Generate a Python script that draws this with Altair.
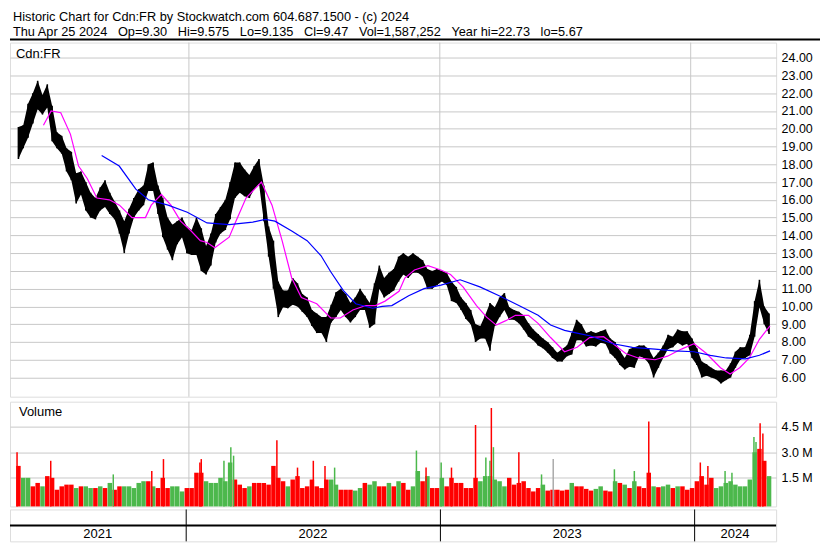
import altair as alt
import pandas as pd

# ---------------- text content ----------------
GAP = "\u00a0\u00a0\u00a0"
HEADER_LINE1 = "Historic Chart for Cdn:FR by Stockwatch.com 604.687.1500 - (c) 2024"
HEADER_LINE2 = ("Thu Apr 25 2024" + GAP + "Op=9.30" + GAP + "Hi=9.575" + GAP + "Lo=9.135" + GAP +
                "Cl=9.47" + GAP + "Vol=1,587,252" + GAP + "Year hi=22.73" + GAP + "lo=5.67")
SYMBOL = "Cdn:FR"
VOLUME_LABEL = "Volume"

# ---------------- weekly price ranges ----------------
FIRST_WEEK = "2021-04-28"
HIGH = [20.1, 20.2, 21.4, 22.0, 22.7, 21.9, 22.5, 21.3, 19.8, 19.6,
        18.9, 18.7, 17.5, 17.6, 17.0, 16.4, 16.1, 16.7, 17.1, 16.4,
        15.9, 15.4, 14.8, 15.5, 16.1, 16.6, 16.8, 18.0, 18.1, 16.8,
        16.1, 15.0, 14.6, 14.8, 15.0, 14.5, 14.3, 15.0, 14.4, 13.4,
        14.1, 15.2, 15.6, 16.0, 17.0, 18.1, 18.1, 17.7, 17.4, 17.9,
        18.3, 16.8, 14.5, 13.7, 11.4, 10.9, 10.9, 11.6, 11.3, 10.7,
        10.5, 9.8, 9.6, 9.4, 9.4, 10.1, 10.8, 11.0, 10.7, 10.2,
        10.5, 11.0, 10.6, 10.2, 11.3, 12.3, 11.6, 11.9, 12.1, 12.8,
        13.0, 12.8, 13.0, 12.8, 12.6, 12.1, 12.0, 12.1, 12.0, 11.9,
        11.4, 11.1, 10.5, 10.2, 9.8, 9.0, 8.9, 9.5, 10.2, 9.95,
        10.5, 10.75, 9.95, 9.8, 9.7, 9.5, 9.05, 8.7, 8.45, 8.2,
        8.0, 7.7, 7.4, 7.6, 7.8, 8.5, 9.25, 9.0, 8.5, 8.6,
        8.5, 8.6, 8.7, 8.2, 8.0, 7.5, 7.1, 7.6, 7.7, 7.8,
        7.8, 7.6, 7.1, 7.4, 7.8, 8.4, 8.3, 8.7, 8.6, 8.6,
        8.2, 7.65, 6.9, 6.75, 6.55, 6.4, 6.4, 6.4, 6.8, 7.45,
        7.7, 7.7, 8.4, 10.3, 11.5, 10.0, 9.6]
LOW = [18.3, 18.9, 19.5, 20.3, 21.1, 20.8, 21.2, 19.3, 18.9, 18.6,
       17.6, 17.1, 15.8, 16.3, 15.4, 15.0, 14.9, 15.4, 15.6, 15.2,
       14.9, 14.1, 13.0, 14.1, 15.0, 15.4, 15.7, 16.5, 16.5, 15.2,
       13.9, 13.2, 12.6, 13.5, 13.9, 13.0, 12.9, 12.9, 12.0, 11.8,
       12.3, 13.6, 14.1, 14.3, 14.9, 16.1, 16.4, 16.2, 16.1, 16.6,
       16.9, 14.8, 12.8, 11.0, 9.4, 9.95, 9.9, 10.1, 10.0, 9.7,
       9.4, 8.9, 8.5, 8.5, 8.0, 9.1, 9.4, 9.8, 9.4, 9.1,
       9.4, 9.8, 9.8, 8.8, 9.0, 11.0, 10.5, 10.7, 10.9, 11.4,
       11.8, 11.6, 11.9, 11.9, 11.7, 11.0, 11.0, 11.2, 11.4, 11.2,
       10.3, 10.2, 9.8, 9.3, 9.0, 8.0, 8.2, 8.2, 7.5, 8.9,
       9.4, 9.8, 9.25, 9.25, 9.05, 8.7, 8.3, 8.1, 7.8, 7.65,
       7.4, 7.1, 6.9, 6.9, 7.2, 7.3, 8.1, 8.1, 7.75, 7.8,
       7.75, 7.95, 7.9, 7.35, 7.1, 6.7, 6.45, 6.6, 6.55, 7.2,
       7.1, 6.8, 6.0, 6.55, 7.1, 7.6, 7.7, 7.95, 7.8, 7.9,
       7.1, 6.7, 6.0, 6.1, 6.0, 5.9, 5.67, 5.85, 6.0, 6.55,
       7.0, 7.1, 7.25, 8.3, 9.95, 9.0, 8.45]

# ---------------- moving averages (week offsets from first week, value) ----------------
MA_SHORT_WK = [5.2, 6.8, 8.8, 10.8, 12.5, 14.3, 16.3, 18.9, 21.0, 23.6,
               26.4, 27.6, 29.7, 31.7, 33.7, 35.7, 37.8, 39.2, 40.8, 43.8,
               45.2, 47.3, 50.5, 52.7, 54.8, 56.8, 58.8, 62.0, 64.9, 66.9,
               69.5, 72.2, 74.2, 76.2, 79.1, 80.3, 82.3, 85.1, 87.8, 89.8,
               92.4, 95.2, 97.3, 99.3, 101.3, 103.3, 106.0, 108.0, 110.6, 113.5,
               116.1, 118.7, 121.6, 123.6, 126.2, 128.8, 132.3, 134.9, 137.8, 140.4,
               143.0, 145.9, 147.9, 149.9, 151.9, 154.0, 156.2]
MA_SHORT = [20.2, 21.0, 20.9, 19.7, 17.9, 17.2, 16.1, 16.0, 15.7, 15.0,
            15.0, 15.7, 16.3, 15.7, 14.8, 14.3, 13.7, 13.6, 13.3, 13.9,
            14.8, 16.1, 17.0, 15.7, 13.7, 11.6, 10.5, 10.15, 9.35, 9.35,
            9.8, 10.05, 10.05, 10.3, 10.85, 11.6, 12.05, 12.3, 12.05, 11.8,
            11.1, 10.05, 9.4, 8.95, 9.2, 9.5, 9.5, 9.05, 8.25, 7.45,
            7.7, 8.25, 8.3, 7.9, 7.35, 7.1, 7.0, 7.2, 7.6, 7.9,
            7.35, 6.55, 6.2, 6.55, 7.1, 8.15, 8.9]
MA_LONG_WK = [17.3, 20.95, 24.4, 27.0, 31.1, 35.1, 39.2, 43.8, 48.7, 51.3,
              53.3, 56.8, 60.0, 62.9, 64.9, 67.5, 70.1, 73.6, 75.6, 77.6,
              81.1, 84.3, 87.8, 91.8, 95.9, 99.9, 104.0, 108.0, 110.6, 113.5,
              116.1, 118.7, 123.6, 127.6, 132.3, 136.3, 140.4, 143.8, 147.1, 151.1,
              154.0, 156.2]
MA_LONG = [18.5, 17.9, 16.6, 16.0, 15.7, 15.3, 14.7, 14.6, 14.75, 14.9,
           14.8, 14.25, 13.7, 12.85, 11.95, 10.9, 10.15, 9.9, 10.0, 10.05,
           10.6, 11.0, 11.2, 11.5, 11.1, 10.6, 10.05, 9.5, 8.95, 8.65,
           8.5, 8.35, 7.9, 7.7, 7.6, 7.5, 7.45, 7.25, 7.1, 7.05,
           7.25, 7.5]

# ---------------- volume (millions) ----------------
VOL = [2.2, 1.5, 1.5, 1.0, 1.2, 1.0, 1.6, 1.5, 0.8, 1.0,
       1.1, 1.1, 0.9, 1.0, 1.0, 0.9, 0.9, 1.0, 0.9, 1.2,
       0.8, 1.0, 1.0, 1.0, 0.9, 1.2, 1.3, 1.3, 1.0, 0.9,
       1.5, 0.9, 1.0, 1.0, 0.7, 0.9, 0.9, 1.8, 1.8, 1.3,
       1.2, 1.2, 1.5, 1.3, 2.4, 1.4, 1.1, 0.9, 1.0, 1.2,
       1.2, 1.2, 1.1, 2.2, 1.5, 1.3, 1.0, 1.4, 1.6, 0.9,
       1.0, 1.4, 1.0, 0.9, 1.4, 1.4, 1.1, 0.8, 0.8, 0.8,
       0.75, 0.9, 1.2, 1.1, 1.3, 1.0, 1.0, 1.2, 1.0, 1.3,
       1.2, 0.8, 1.0, 1.9, 1.3, 1.6, 0.9, 0.9, 1.5, 1.0,
       1.5, 1.2, 1.2, 0.9, 0.9, 1.5, 1.3, 1.6, 1.6, 1.4,
       1.3, 1.0, 1.5, 1.1, 1.2, 1.3, 0.9, 0.7, 0.9, 1.1,
       0.75, 0.8, 0.8, 0.75, 0.8, 1.2, 1.0, 1.0, 0.85, 0.75,
       0.85, 1.0, 0.75, 0.7, 1.3, 1.2, 1.1, 0.9, 1.3, 1.0,
       0.9, 1.8, 1.0, 0.95, 1.0, 1.1, 0.9, 1.0, 1.0, 0.8,
       0.9, 1.3, 1.6, 1.1, 1.5, 0.9, 1.0, 1.2, 1.3, 1.1,
       1.0, 1.0, 1.4, 3.0, 3.2, 2.5, 1.6]
VOL_DIR = ["d", "u", "u", "d", "d", "u", "d", "d", "d", "d",
           "d", "d", "u", "d", "u", "u", "d", "u", "d", "u",
           "d", "d", "u", "u", "u", "u", "u", "d", "u", "d",
           "d", "d", "u", "u", "u", "d", "d", "d", "d", "u",
           "u", "u", "u", "u", "u", "d", "d", "d", "u", "d",
           "d", "d", "d", "d", "d", "d", "u", "d", "d", "d",
           "d", "d", "d", "d", "d", "u", "u", "d", "d", "d",
           "u", "u", "d", "u", "u", "d", "d", "u", "d", "u",
           "d", "d", "u", "u", "d", "u", "d", "d", "u", "d",
           "d", "d", "d", "d", "d", "d", "u", "u", "u", "u",
           "u", "u", "d", "d", "d", "d", "d", "d", "d", "u",
           "d", "d", "d", "d", "d", "u", "d", "d", "d", "d",
           "u", "u", "d", "d", "u", "d", "u", "d", "u", "d",
           "d", "d", "u", "d", "u", "u", "d", "u", "d", "d",
           "d", "d", "d", "d", "d", "u", "u", "u", "u", "u",
           "u", "u", "u", "u", "d", "d", "u"]
# single heavy-volume days
SPIKE_DATES = ["2021-04-26", "2021-06-14", "2021-09-13", "2021-11-08", "2021-11-25",
               "2022-01-17", "2022-01-19", "2022-02-21", "2022-03-03", "2022-03-07",
               "2022-05-09", "2022-06-08", "2022-07-01", "2022-07-18", "2022-08-01",
               "2022-11-28", "2022-12-12", "2023-01-03", "2023-01-18", "2023-02-22",
               "2023-03-09", "2023-03-15", "2023-03-17", "2023-03-20", "2023-04-26",
               "2023-05-29", "2023-06-15", "2023-09-12", "2023-10-11", "2023-11-01",
               "2024-01-15", "2024-01-26", "2024-02-20", "2024-03-01", "2024-04-02",
               "2024-04-05", "2024-04-11", "2024-04-15"]
SPIKE_VOL = [3.0, 2.5, 1.7, 1.9, 2.6,
             2.4, 2.6, 2.5, 3.3, 2.8,
             3.7, 2.1, 2.5, 2.2, 2.1,
             3.1, 2.1, 2.4, 2.1, 4.6,
             2.7, 2.5, 5.6, 3.3, 3.0,
             1.7, 2.6, 2.0, 1.9, 4.8,
             2.4, 2.2, 1.9, 1.8, 3.9,
             3.6, 4.7, 4.1]
SPIKE_DIR = ["d", "d", "u", "d", "d",
             "d", "d", "u", "u", "u",
             "d", "d", "d", "d", "u",
             "u", "d", "u", "d", "d",
             "u", "u", "d", "u", "d",
             "u", "f", "u", "u", "d",
             "d", "d", "u", "u", "u",
             "u", "d", "d"]

# ---------------- axis / calendar ----------------
PRICE_TICKS = [6, 7, 8, 9, 10, 11, 12, 13, 14, 15, 16, 17, 18, 19, 20, 21, 22, 23, 24]
VOL_TICKS = [1.5, 3.0, 4.5]
YEAR_STARTS = ["2022-01-01", "2023-01-01", "2024-01-01"]
YEAR_LABELS = ["2021", "2022", "2023", "2024"]
YEAR_LABEL_DATES = ["2021-08-27", "2022-07-02", "2023-07-02", "2024-02-28"]

# ---------------- build tables ----------------
weeks = pd.date_range(FIRST_WEEK, periods=len(HIGH), freq="7D")
base = pd.Timestamp(FIRST_WEEK)
price_df = pd.DataFrame({"date": weeks, "high": HIGH, "low": LOW})
vol_df = pd.DataFrame({"date": weeks, "vol": VOL, "dir": VOL_DIR})
spike_df = pd.DataFrame({"date": pd.to_datetime(SPIKE_DATES), "vol": SPIKE_VOL, "dir": SPIKE_DIR})
ma_s_df = pd.DataFrame({"date": [base + pd.Timedelta(days=w * 7) for w in MA_SHORT_WK], "val": MA_SHORT})
ma_l_df = pd.DataFrame({"date": [base + pd.Timedelta(days=w * 7) for w in MA_LONG_WK], "val": MA_LONG})
years_df = pd.DataFrame({"date": pd.to_datetime(YEAR_STARTS)})
ylab_df = pd.DataFrame({"date": pd.to_datetime(YEAR_LABEL_DATES), "label": YEAR_LABELS})
one = pd.DataFrame({"k": [0]})

# ---------------- styling ----------------
FONT = "Liberation Sans"
GRID = "#c8c8c8"
W = 768
HP = 355
HV = 105
HS = 32
HH = 30
VOL_MIN = -0.18
VOL_MAX = 5.97

xscale = alt.Scale(domain=[alt.DateTime(year=2021, month=4, date=23),
                           alt.DateTime(year=2024, month=4, date=27)])
X = alt.X("date:T", scale=xscale, axis=None)
pscale = alt.Scale(domain=[4.92, 24.85], nice=False, zero=False)
paxis = alt.Axis(orient="right", values=PRICE_TICKS, format=".2f", grid=True, gridColor=GRID,
                 ticks=False, domain=False, labelPadding=5, labelFont=FONT, labelFontSize=12.5,
                 labelColor="black", title=None)
vscale = alt.Scale(domain=[VOL_MIN, VOL_MAX], nice=False, zero=False)
vaxis = alt.Axis(orient="right", values=VOL_TICKS, labelExpr="format(datum.value, '.1f') + ' M'",
                 grid=True, gridColor=GRID, ticks=False, domain=False, labelPadding=5,
                 labelFont=FONT, labelFontSize=12.5, labelColor="black", title=None)
cscale = alt.Scale(domain=["u", "d", "f"], range=["#4cb84c", "#ff0000", "#aaaaaa"])

# ---------------- header ----------------
header = alt.layer(
    alt.Chart(one).mark_text(text=HEADER_LINE1, align="left", baseline="alphabetic",
                             font=FONT, fontSize=12.8, color="black")
    .encode(x=alt.value(3), y=alt.value(11.5)),
    alt.Chart(one).mark_text(text=HEADER_LINE2, align="left", baseline="alphabetic",
                             font=FONT, fontSize=12.8, color="black")
    .encode(x=alt.value(3), y=alt.value(26.5)),
    alt.Chart(one).mark_rule(color="black", strokeWidth=2)
    .encode(x=alt.value(0), x2=alt.value(812), y=alt.value(HH)),
).properties(width=812, height=HH, view=alt.ViewBackground(stroke="transparent"))

# ---------------- price panel ----------------
price = alt.layer(
    alt.Chart(years_df).mark_rule(color=GRID, strokeWidth=1).encode(x=X),
    alt.Chart(price_df).mark_area(color="black", interpolate="linear").encode(
        x=X, y=alt.Y("high:Q", scale=pscale, axis=paxis), y2="low:Q"),
    alt.Chart(price_df).mark_bar(color="black", width=1.6).encode(
        x=X, y=alt.Y("high:Q", scale=pscale, axis=paxis), y2="low:Q"),
    alt.Chart(ma_s_df).mark_line(color="#ff00ff", strokeWidth=1.2).encode(
        x=X, y=alt.Y("val:Q", scale=pscale, axis=paxis)),
    alt.Chart(ma_l_df).mark_line(color="#0000ff", strokeWidth=1.2).encode(
        x=X, y=alt.Y("val:Q", scale=pscale, axis=paxis)),
    alt.Chart(one).mark_text(text=SYMBOL, align="left", baseline="middle", font=FONT,
                             fontSize=13, color="black")
    .encode(x=alt.value(6), y=alt.value(11)),
).properties(width=W, height=HP)

# ---------------- volume panel ----------------
volume = alt.layer(
    alt.Chart(years_df).mark_rule(color=GRID, strokeWidth=1).encode(x=X),
    alt.Chart(vol_df).mark_bar(width=4.5).encode(
        x=X, y=alt.Y("vol:Q", scale=vscale, axis=vaxis), y2=alt.datum(VOL_MIN),
        color=alt.Color("dir:N", scale=cscale, legend=None)),
    alt.Chart(spike_df).mark_rule(strokeWidth=1.5).encode(
        x=X, y=alt.Y("vol:Q", scale=vscale, axis=vaxis), y2=alt.datum(VOL_MIN),
        color=alt.Color("dir:N", scale=cscale, legend=None)),
    alt.Chart(one).mark_text(text=VOLUME_LABEL, align="left", baseline="middle", font=FONT,
                             fontSize=13, color="black")
    .encode(x=alt.value(9), y=alt.value(10)),
).properties(width=W, height=HV)

# ---------------- year strip ----------------
strip = alt.layer(
    alt.Chart(years_df).mark_rule(color="black", strokeWidth=1).encode(x=X),
    alt.Chart(one).mark_rule(color="black", strokeWidth=2)
    .encode(x=alt.value(0), x2=alt.value(W), y=alt.value(16)),
    alt.Chart(ylab_df).mark_text(font=FONT, fontSize=13, baseline="middle", color="black").encode(
        x=X, y=alt.value(24.5), text="label:N"),
).properties(width=W, height=HS)

chart = alt.vconcat(
    header,
    alt.vconcat(price, volume, spacing=3),
    strip,
    spacing=0,
).properties(padding=0, background="white").configure_view(
    stroke="black", strokeWidth=2
).configure(font=FONT)

chart.save("out.html", embed_options={"renderer": "svg", "actions": False})
